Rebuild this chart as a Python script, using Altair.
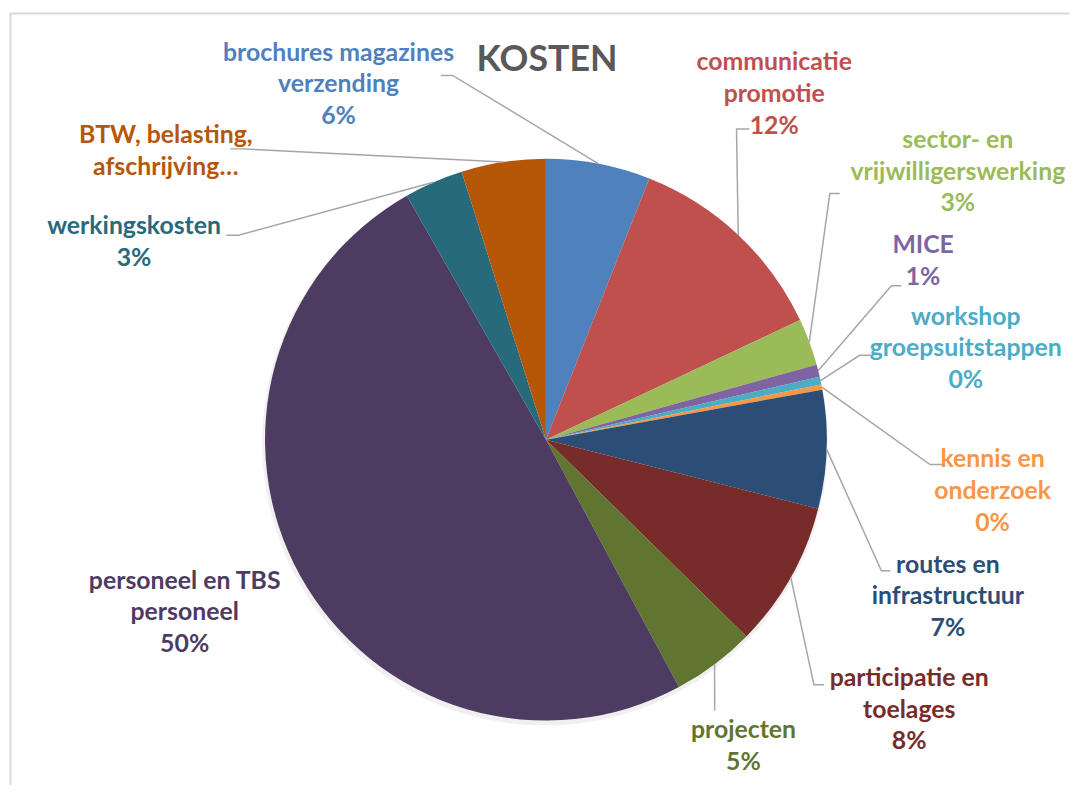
import math
import altair as alt
import pandas as pd

# ---------------- data ----------------
categories = [
    "brochures magazines verzending", "communicatie promotie",
    "sector- en vrijwilligerswerking", "MICE", "workshop groepsuitstappen",
    "kennis en onderzoek", "routes en infrastructuur", "participatie en toelages",
    "projecten", "personeel en TBS personeel", "werkingskosten",
    "BTW, belasting, afschrijving…",
]
label_text = [
    "brochures magazines\nverzending", "communicatie\npromotie",
    "sector- en\nvrijwilligerswerking", "MICE", "workshop\ngroepsuitstappen",
    "kennis en\nonderzoek", "routes en\ninfrastructuur", "participatie en\ntoelages",
    "projecten", "personeel en TBS\npersoneel", "werkingskosten",
    "BTW, belasting,\nafschrijving…",
]
values = [6.0, 12.0, 2.7, 0.7, 0.45, 0.3, 6.8, 8.4, 4.8, 49.6, 3.4, 4.85]
show_pct = [True] * 11 + [False]
colors = [
    "#4F81BD", "#C0504D", "#9BBB59", "#8064A2", "#4BACC6", "#F79646",
    "#2C4D75", "#772C2A", "#5F7530", "#4D3B62", "#276A7C", "#B65708",
]

# ---------------- layout (page pixels) ----------------
OFF = 8
CX, CY, R = 550 - OFF, 440 - OFF, 283
W, H = 1069, 780
label_x = [341, 780, 965, 930, 973, 1000, 955, 916, 749, 186, 135, 167]
label_y = [50, 60, 138, 244, 316, 460, 566, 680, 733, 582, 225, 133]  # first line centre
leader_end = [(444, 73), (755, 127), (846, 192), (908, 285), (878, 355), (950, 465),
              (897, 572), (830, 687), (720, 713), None, (228, 234), (232, 147)]
leader_elbow = [(456, 73), (742, 127), (836, 192), (898, 285), (866, 355), (937, 465),
                (888, 572), (820, 687), (720, 700), None, (240, 234), (244, 147)]

total = sum(values)
pie_df = pd.DataFrame({
    "category": categories,
    "value": values,
    "order": list(range(len(values))),
})

lbl_rows = []
line_rows = []
cum = 0.0
for i, (c, v) in enumerate(zip(categories, values)):
    txt = label_text[i]
    if show_pct[i]:
        txt += "\n" + f"{round(v / total * 100)}%"
    lbl_rows.append({"category": c, "text": txt,
                     "x": label_x[i] - OFF, "y": label_y[i] - OFF})
    a = (cum + v / 2) / total * 2 * math.pi
    cum += v
    if leader_end[i] is not None:
        px = CX + R * math.sin(a)
        py = CY - R * math.cos(a)
        pts = [(leader_end[i][0] - OFF, leader_end[i][1] - OFF),
               (leader_elbow[i][0] - OFF, leader_elbow[i][1] - OFF),
               (px, py)]
        for k, (x, y) in enumerate(pts):
            line_rows.append({"id": i, "seq": k, "x": x, "y": y})

lbl_df = pd.DataFrame(lbl_rows)
line_df = pd.DataFrame(line_rows)

color_scale = alt.Scale(domain=categories, range=colors)

shadow = alt.Chart(pie_df).mark_arc(radius=R + 2, color="#000000", opacity=0.06).encode(
    theta=alt.Theta("value:Q", stack=True),
    order=alt.Order("order:Q"),
    x=alt.value(CX - 1), y=alt.value(CY + 3),
)

pie = alt.Chart(pie_df).mark_arc(radius=R).encode(
    theta=alt.Theta("value:Q", stack=True),
    order=alt.Order("order:Q"),
    color=alt.Color("category:N", scale=color_scale, legend=None),
    x=alt.value(CX), y=alt.value(CY),
)

leaders = alt.Chart(line_df).mark_line(color="#A6A6A6", strokeWidth=1.5).encode(
    x=alt.X("x:Q", scale=None, axis=None),
    y=alt.Y("y:Q", scale=None, axis=None),
    detail="id:N",
    order="seq:Q",
)

labels = alt.Chart(lbl_df).mark_text(
    font="Lato", fontWeight="bold", fontSize=25, lineHeight=32,
    align="center", baseline="middle", lineBreak="\n",
).encode(
    x=alt.X("x:Q", scale=None, axis=None),
    y=alt.Y("y:Q", scale=None, axis=None),
    text="text:N",
    color=alt.Color("category:N", scale=color_scale, legend=None),
)

title = alt.Chart(pd.DataFrame({"t": ["KOSTEN"]})).mark_text(
    font="Lato", fontWeight="bold", fontSize=36, color="#595959",
    align="center", baseline="middle",
).encode(text="t:N", x=alt.value(551 - OFF), y=alt.value(58 - OFF))

border_left = alt.Chart(pd.DataFrame({"a": [0]})).mark_rule(color="#D9D9D9", strokeWidth=2).encode(
    x=alt.value(2.5), y=alt.value(2), y2=alt.value(H))
border_top = alt.Chart(pd.DataFrame({"a": [0]})).mark_rule(color="#D9D9D9", strokeWidth=2).encode(
    x=alt.value(2), x2=alt.value(W), y=alt.value(2.5))

chart = alt.layer(shadow, pie, leaders, labels, title, border_left, border_top).properties(
    width=W, height=H, padding=0, autosize=alt.AutoSizeParams(type="none"),
).configure_view(stroke=None).resolve_scale(color="shared")

chart.save("out.html", embed_options={"renderer": "svg", "actions": False})
